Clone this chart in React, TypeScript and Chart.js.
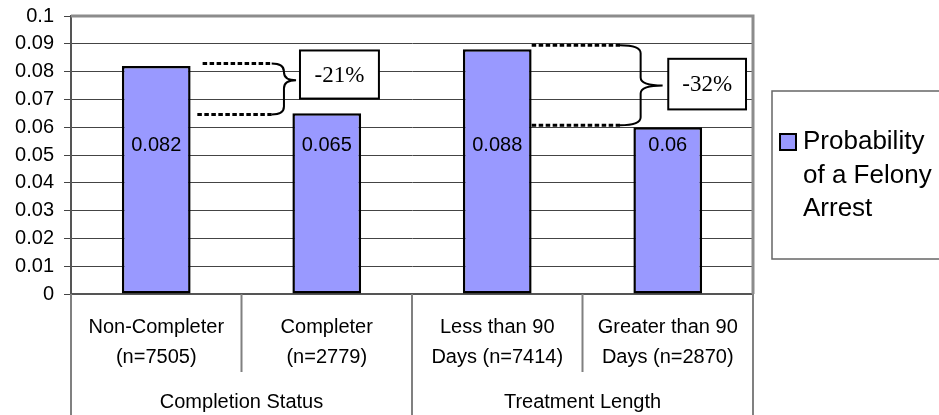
import React, { useEffect, useRef } from 'react';
import { Chart, registerables } from 'chart.js';

Chart.register(...registerables);

// ---------- data ----------
const categories: string[][] = [
  ['Non-Completer', '(n=7505)'],
  ['Completer', '(n=2779)'],
  ['Less than 90', 'Days (n=7414)'],
  ['Greater than 90', 'Days (n=2870)'],
];
const groupLabels = ['Completion Status', 'Treatment Length'];
const groupFirst = [0, 2];
const groupLast = [1, 3];
const seriesLabel = 'Probability of a Felony Arrest';
const legendLines = ['Probability', 'of a Felony', 'Arrest'];
const felonyProbability = [0.082, 0.065, 0.088, 0.06];
const yTickLabels = ['0', '0.01', '0.02', '0.03', '0.04', '0.05', '0.06', '0.07', '0.08', '0.09', '0.1'];
const changeLabels = ['-21%', '-32%'];

// ---------- annotation geometry (category index / value space) ----------
const brackets = [
  {
    upperStart: 0.272, lowerStart: 0.241, end: 0.677, vert: 0.749, tip: 0.82,
    top: 0.0829, bottom: 0.0646, tipY: 0.0769,
    boxX0: 0.843, boxX1: 1.306, boxY0: 0.0876, boxY1: 0.0703,
  },
  {
    upperStart: 2.202, lowerStart: 2.202, end: 2.72, vert: 2.841, tip: 2.97,
    top: 0.0895, bottom: 0.0607, tipY: 0.075,
    boxX0: 3.003, boxX1: 3.459, boxY0: 0.0846, boxY1: 0.0664,
  },
];
const VALUE_LABEL_AT = 0.0536;

const SANS = '"Liberation Sans", Arial, Helvetica, sans-serif';
const SERIF = '"Liberation Serif", "Times New Roman", serif';
const BAR_FILL = '#9999FF';

const overlayPlugin = {
  id: 'overlay',
  afterDatasetsDraw(chart: any) {
    const { ctx, scales } = chart;
    const x = scales.x;
    const y = scales.y;
    ctx.save();
    // value labels inside bars
    ctx.font = `20px ${SANS}`;
    ctx.fillStyle = '#000';
    ctx.textAlign = 'center';
    ctx.textBaseline = 'middle';
    felonyProbability.forEach((v, i) => {
      ctx.fillText(String(v), x.getPixelForValue(i), y.getPixelForValue(VALUE_LABEL_AT));
    });

    // brackets with dotted guides
    brackets.forEach((b, k) => {
      const yTop = y.getPixelForValue(b.top);
      const yBot = y.getPixelForValue(b.bottom);
      const yTip = y.getPixelForValue(b.tipY);
      const xEnd = x.getPixelForValue(b.end);
      const xVert = x.getPixelForValue(b.vert);
      const xTip = x.getPixelForValue(b.tip);
      const r = 8;

      ctx.strokeStyle = '#000';
      ctx.lineWidth = 3;
      ctx.setLineDash([4.5, 2.5]);
      ctx.lineCap = 'butt';
      ctx.beginPath();
      ctx.moveTo(x.getPixelForValue(b.upperStart), yTop);
      ctx.lineTo(xEnd, yTop);
      ctx.moveTo(x.getPixelForValue(b.lowerStart), yBot);
      ctx.lineTo(xEnd, yBot);
      ctx.stroke();

      ctx.setLineDash([]);
      ctx.lineWidth = 2;
      ctx.beginPath();
      ctx.moveTo(xEnd, yTop);
      ctx.quadraticCurveTo(xVert, yTop, xVert, yTop + r);
      ctx.lineTo(xVert, yTip - r);
      ctx.quadraticCurveTo(xVert, yTip, xTip, yTip);
      ctx.moveTo(xTip, yTip);
      ctx.quadraticCurveTo(xVert, yTip, xVert, yTip + r);
      ctx.lineTo(xVert, yBot - r);
      ctx.quadraticCurveTo(xVert, yBot, xEnd, yBot);
      ctx.stroke();

      const bx0 = x.getPixelForValue(b.boxX0);
      const bx1 = x.getPixelForValue(b.boxX1);
      const by0 = y.getPixelForValue(b.boxY0);
      const by1 = y.getPixelForValue(b.boxY1);
      ctx.fillStyle = '#fff';
      ctx.fillRect(bx0, by0, bx1 - bx0, by1 - by0);
      ctx.strokeStyle = '#000';
      ctx.lineWidth = 2;
      ctx.strokeRect(bx0, by0, bx1 - bx0, by1 - by0);
      ctx.fillStyle = '#000';
      ctx.font = `23px ${SERIF}`;
      ctx.textAlign = 'center';
      ctx.textBaseline = 'middle';
      ctx.fillText(changeLabels[k], (bx0 + bx1) / 2, (by0 + by1) / 2 + 1);
    });
    ctx.restore();
  },
  afterDraw(chart: any) {
    const { ctx, chartArea, scales } = chart;
    const x = scales.x;
    const H = chart.height;
    ctx.save();

    // plot area border (top & right)
    ctx.strokeStyle = '#8c8c8c';
    ctx.lineWidth = 3;
    ctx.beginPath();
    ctx.moveTo(chartArea.left, chartArea.top);
    ctx.lineTo(chartArea.right, chartArea.top);
    ctx.lineTo(chartArea.right, chartArea.bottom);
    ctx.stroke();

    // category separators below the axis
    ctx.strokeStyle = '#808080';
    ctx.lineWidth = 2;
    ctx.beginPath();
    groupFirst.forEach((f, g) => {
      const l = groupLast[g];
      const xl = x.getPixelForValue(f - 0.5);
      const xr = x.getPixelForValue(l + 0.5);
      ctx.moveTo(xl, chartArea.bottom);
      ctx.lineTo(xl, H);
      ctx.moveTo(xr, chartArea.bottom);
      ctx.lineTo(xr, H);
      for (let i = f; i < l; i++) {
        const xm = x.getPixelForValue(i + 0.5);
        ctx.moveTo(xm, chartArea.bottom);
        ctx.lineTo(xm, chartArea.bottom + 78);
      }
    });
    ctx.stroke();

    // group labels
    ctx.fillStyle = '#000';
    ctx.font = `20px ${SANS}`;
    ctx.textAlign = 'center';
    ctx.textBaseline = 'middle';
    groupLabels.forEach((lab, g) => {
      const xc = (x.getPixelForValue(groupFirst[g] - 0.5) + x.getPixelForValue(groupLast[g] + 0.5)) / 2;
      ctx.fillText(lab, xc, chartArea.bottom + 108);
    });

    // legend
    ctx.strokeStyle = '#666';
    ctx.lineWidth = 1.5;
    ctx.strokeRect(772, 91, 220, 168);
    ctx.fillStyle = BAR_FILL;
    ctx.fillRect(780, 134, 16, 16);
    ctx.strokeStyle = '#000';
    ctx.lineWidth = 2;
    ctx.strokeRect(780, 134, 16, 16);
    ctx.fillStyle = '#000';
    ctx.font = `26px ${SANS}`;
    ctx.textAlign = 'left';
    ctx.textBaseline = 'middle';
    legendLines.forEach((t, i) => ctx.fillText(t, 803, 142 + i * 33.5));

    ctx.restore();
  },
};

export default function App() {
  const ref = useRef<HTMLCanvasElement | null>(null);

  useEffect(() => {
    document.body.style.margin = '0';
    const canvas = ref.current;
    if (!canvas) return;
    const chart = new Chart(canvas, {
      type: 'bar',
      data: {
        labels: categories,
        datasets: [
          {
            label: seriesLabel,
            data: felonyProbability,
            backgroundColor: BAR_FILL,
            borderColor: '#000',
            borderWidth: 2.5,
            borderSkipped: false,
            categoryPercentage: 1,
            barPercentage: 0.403,
          },
        ],
      },
      options: {
        animation: false,
        responsive: false,
        maintainAspectRatio: false,
        layout: { padding: { top: 16, right: 186, left: 0, bottom: 0 } },
        plugins: {
          legend: { display: false },
          tooltip: { enabled: false },
        },
        scales: {
          x: {
            grid: { display: false, drawTicks: false },
            border: { display: true, color: '#555', width: 2 },
            ticks: {
              color: '#000',
              font: { family: SANS, size: 20, lineHeight: 1.5 },
              padding: 18,
              maxRotation: 0,
              minRotation: 0,
              autoSkip: false,
            },
            afterFit: (s: any) => {
              s.height = 121;
              s.paddingLeft = 0;
              s.paddingRight = 0;
            },
          },
          y: {
            min: 0,
            max: 0.1,
            ticks: {
              stepSize: 0.01,
              color: '#000',
              font: { family: SANS, size: 20 },
              padding: 10,
              callback: (_v: any, i: number) => yTickLabels[i],
            },
            grid: { color: '#444', lineWidth: 1, tickLength: 7, drawTicks: true },
            border: { display: true, color: '#555', width: 2 },
            afterFit: (s: any) => {
              s.width = 71;
              s.paddingTop = 0;
              s.paddingBottom = 0;
            },
          },
        },
      },
      plugins: [overlayPlugin],
    });
    return () => chart.destroy();
  }, []);

  return (
    <div style={{ position: 'absolute', left: 0, top: 0, width: 939, height: 415, background: '#fff' }}>
      <canvas ref={ref} width={939} height={415} style={{ width: 939, height: 415, display: 'block' }} />
    </div>
  );
}
